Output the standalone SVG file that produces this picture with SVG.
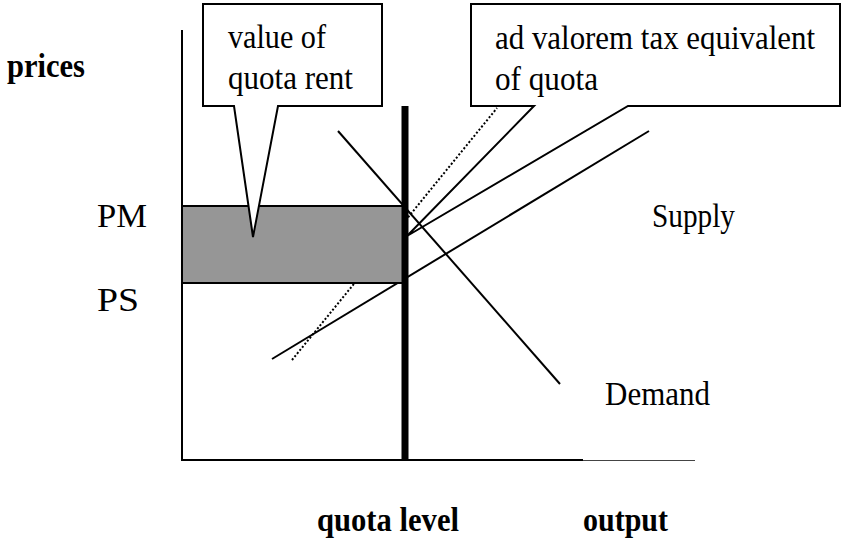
<svg xmlns="http://www.w3.org/2000/svg" width="850" height="541" viewBox="0 0 850 541">
<style>
text{font-family:'Liberation Serif','Times New Roman',serif;font-size:34px;fill:#000}
.b{font-weight:bold}
.ln{stroke:#000;stroke-width:2;fill:none}
.co{fill:#fff;stroke:#000;stroke-width:2;stroke-linejoin:miter}
</style>
<rect width="850" height="541" fill="#fff"/>
<g id="connectors">
<line id="axis-y" class="ln" x1="182" y1="30" x2="182" y2="461"/>
<line id="axis-x" class="ln" x1="181" y1="460" x2="583" y2="460"/>
<line id="axis-x-ext" x1="583" y1="460.5" x2="695" y2="460.5" stroke="#444" stroke-width="1"/>
<line id="dotted" x1="292" y1="360" x2="497" y2="108" stroke="#000" stroke-width="2" stroke-dasharray="2 2"/>
<line id="supply" class="ln" x1="272" y1="359" x2="649" y2="131"/>
</g>
<g id="quota-rent-area">
<rect x="182" y="206" width="223" height="77" fill="#969696" stroke="#000" stroke-width="2"/>
</g>
<line id="quota-line" x1="405" y1="106" x2="405" y2="461" stroke="#000" stroke-width="7"/>
<g id="callout-rent">
<path class="co" d="M203,4 H382 V106 H278 L253,237 L234,106 H203 Z"/>
<text x="228" y="48" textLength="98" lengthAdjust="spacingAndGlyphs">value of</text>
<text x="228" y="89" textLength="125" lengthAdjust="spacingAndGlyphs">quota rent</text>
</g>
<g id="callout-tax">
<path class="co" d="M471,4 H840 V106 H628 L407,236 L534,106 H471 Z"/>
<text x="495" y="49" textLength="320" lengthAdjust="spacingAndGlyphs">ad valorem tax equivalent</text>
<text x="495" y="90" textLength="103" lengthAdjust="spacingAndGlyphs">of quota</text>
</g>
<line id="demand" class="ln" x1="338" y1="131" x2="560" y2="384"/>
<g id="labels">
<text class="b" x="7" y="77" textLength="78" lengthAdjust="spacingAndGlyphs">prices</text>
<text x="97" y="227" textLength="50" lengthAdjust="spacingAndGlyphs">PM</text>
<text x="97" y="311" textLength="42" lengthAdjust="spacingAndGlyphs">PS</text>
<text x="652" y="227" textLength="83" lengthAdjust="spacingAndGlyphs">Supply</text>
<text x="605" y="405" textLength="105" lengthAdjust="spacingAndGlyphs">Demand</text>
<text class="b" x="317" y="531" textLength="142" lengthAdjust="spacingAndGlyphs">quota level</text>
<text class="b" x="583" y="531" textLength="85" lengthAdjust="spacingAndGlyphs">output</text>
</g>
</svg>
